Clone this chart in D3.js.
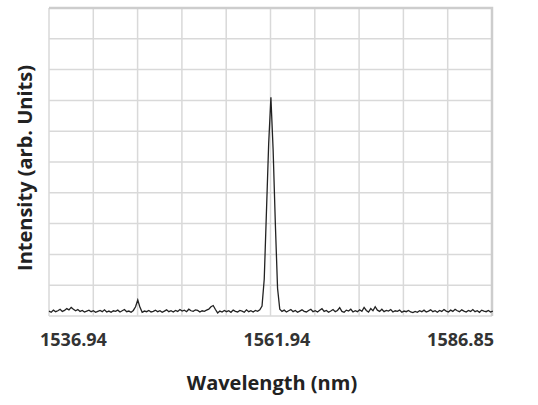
<!DOCTYPE html>
<html>
<head>
<meta charset="utf-8">
<script src="https://cdn.jsdelivr.net/npm/d3@7"></script>
<style>
  body { margin: 0; background: #fff; }
  text { font-family: "Open Sans", sans-serif; }
</style>
</head>
<body>
<div id="chart"></div>
<script>
// spectrum sampling: start wavelength and step (nm)
const wlStart = 1536.94;
const wlStep = 0.25;
const intensity = [
  0.16,0.12,0.19,0.14,0.17,0.22,0.15,0.18,0.24,0.20,
  0.28,0.22,0.17,0.21,0.15,0.18,0.13,0.16,0.19,0.14,
  0.17,0.12,0.15,0.18,0.14,0.20,0.13,0.16,0.12,0.17,
  0.15,0.19,0.13,0.17,0.21,0.14,0.16,0.12,0.18,0.30,
  0.52,0.28,0.12,0.16,0.14,0.18,0.13,0.15,0.19,0.14,
  0.17,0.12,0.16,0.20,0.14,0.17,0.13,0.18,0.15,0.21,
  0.16,0.19,0.14,0.22,0.17,0.15,0.20,0.18,0.13,0.17,
  0.15,0.19,0.22,0.30,0.34,0.21,0.10,0.16,0.13,0.18,
  0.14,0.17,0.12,0.19,0.15,0.13,0.18,0.16,0.12,0.20,
  0.14,0.17,0.13,0.18,0.15,0.20,0.32,1.20,3.40,5.60,
  7.10,5.40,3.00,0.90,0.22,0.15,0.19,0.13,0.17,0.21,
  0.14,0.18,0.12,0.16,0.20,0.15,0.13,0.18,0.22,0.14,
  0.17,0.13,0.19,0.24,0.15,0.18,0.12,0.16,0.21,0.14,
  0.18,0.27,0.15,0.12,0.19,0.16,0.22,0.13,0.17,0.14,
  0.20,0.15,0.28,0.18,0.13,0.24,0.17,0.30,0.19,0.15,
  0.22,0.14,0.18,0.16,0.21,0.13,0.17,0.15,0.19,0.12,
  0.16,0.14,0.18,0.13,0.11,0.15,0.12,0.17,0.14,0.19,
  0.13,0.16,0.20,0.14,0.17,0.12,0.18,0.15,0.21,0.16,
  0.13,0.19,0.15,0.22,0.17,0.14,0.20,0.16,0.13,0.18,
  0.15,0.21,0.14,0.17,0.12,0.19,0.16,0.14,0.18,0.13,0.16
];
const xTickValues = [1536.94, 1561.94, 1586.85];
const xTickLabels = ["1536.94", "1561.94", "1586.85"];
const xTitle = "Wavelength (nm)";
const yTitle = "Intensity (arb. Units)";

const width = 538;
const height = 405;
const margin = { top: 8, right: 46, bottom: 89, left: 49 };

const x = d3.scaleLinear()
  .domain([1536.94, 1586.85])
  .range([margin.left, width - margin.right]);

const y = d3.scaleLinear()
  .domain([0, 10])
  .range([height - margin.bottom, margin.top]);

// 10 equal grid columns across the plot
const gx = d3.scaleLinear().domain([0, 10]).range(x.range());

const svg = d3.select("#chart")
  .append("svg")
  .attr("width", width)
  .attr("height", height);

const grid = svg.append("g").attr("stroke", "#d9d9d9").attr("stroke-width", 1.5);

grid.selectAll(".vg")
  .data(d3.range(11))
  .join("line")
  .attr("x1", d => gx(d))
  .attr("x2", d => gx(d))
  .attr("y1", y(10))
  .attr("y2", y(0));

grid.selectAll(".hg")
  .data(d3.range(11))
  .join("line")
  .attr("x1", x.range()[0])
  .attr("x2", x.range()[1])
  .attr("y1", d => y(d))
  .attr("y2", d => y(d));

// heavier top and right frame
svg.append("path")
  .attr("d", `M${x.range()[0]},${y(10)}H${x.range()[1]}V${y(0)}`)
  .attr("fill", "none")
  .attr("stroke", "#cdcdcd")
  .attr("stroke-width", 2.5);

const line = d3.line()
  .x((d, i) => x(wlStart + i * wlStep))
  .y(d => y(d));

svg.append("path")
  .datum(intensity)
  .attr("fill", "none")
  .attr("stroke", "#222")
  .attr("stroke-width", 1.3)
  .attr("d", line);

// x tick labels
const anchors = ["start", "middle", "end"];
const shifts = [-9, 6, 2];
svg.selectAll(".xt")
  .data(xTickValues)
  .join("text")
  .attr("x", (d, i) => x(d) + shifts[i])
  .attr("y", 346)
  .attr("text-anchor", (d, i) => anchors[i])
  .attr("font-size", 18)
  .attr("font-weight", 700)
  .attr("fill", "#333")
  .text((d, i) => xTickLabels[i]);

svg.append("text")
  .attr("x", 272)
  .attr("y", 390)
  .attr("text-anchor", "middle")
  .attr("font-size", 20)
  .attr("font-weight", 700)
  .attr("fill", "#222")
  .text(xTitle);

svg.append("text")
  .attr("transform", "translate(32,168) rotate(-90)")
  .attr("text-anchor", "middle")
  .attr("font-size", 20)
  .attr("font-weight", 700)
  .attr("fill", "#222")
  .text(yTitle);
</script>
</body>
</html>
